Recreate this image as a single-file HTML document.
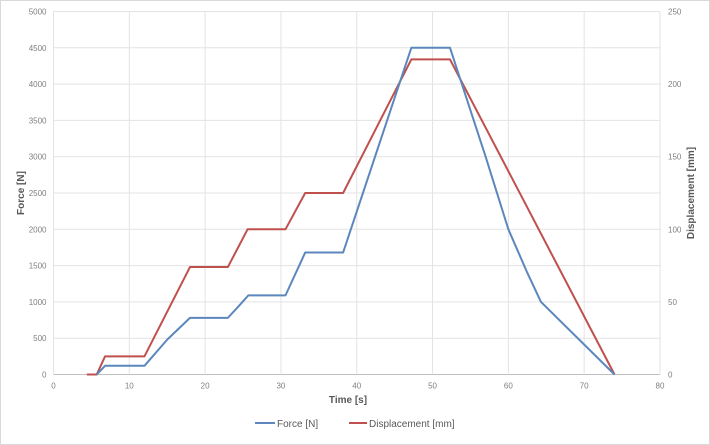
<!DOCTYPE html>
<html><head><meta charset="utf-8"><style>
body{margin:0;background:#fff;}
svg{display:block;font-family:"Liberation Sans",sans-serif;}
</style></head><body>
<svg id="chart" width="710" height="445" viewBox="0 0 710 445">
<rect x="0.5" y="0.5" width="709" height="444" fill="#fff" stroke="#d9d9d9"/>
<g id="grid"></g><g id="axes"></g><g id="series"></g>
<text x="348" y="403" text-anchor="middle" font-size="10" font-weight="bold" fill="#595959">Time [s]</text>
<text transform="translate(24,193) rotate(-90)" text-anchor="middle" font-size="10" font-weight="bold" fill="#595959">Force [N]</text>
<text transform="translate(694,193) rotate(-90)" text-anchor="middle" font-size="10" font-weight="bold" fill="#595959">Displacement [mm]</text>
<g>
<line x1="255" y1="423" x2="275" y2="423" stroke="#5b87bd" stroke-width="2"/>
<text x="277" y="427" font-size="10" fill="#595959">Force [N]</text>
<line x1="349" y1="423" x2="367" y2="423" stroke="#c0504d" stroke-width="2"/>
<text x="369" y="427" font-size="10" fill="#595959">Displacement [mm]</text>
</g>
</svg>
<script>
const xTicks=[0,10,20,30,40,50,60,70,80];
const forceTicks=[0,500,1000,1500,2000,2500,3000,3500,4000,4500,5000];
const dispTicks=[0,50,100,150,200,250];
const forceTime=[5.7,6.8,12,15,18,23,24.5,25.7,30.6,33.2,38.2,47.2,52.3,57,60,62.5,64.3,74];
const forceVals=[0,120,120,480,780,780,950,1090,1090,1680,1680,4500,4500,3000,2000,1400,1000,0];
const dispTime=[4.4,5.7,6.8,12,18,23,25.6,30.6,33.2,38.2,47.2,52.3,74];
const dispVals=[0,0,12.5,12.5,74,74,100,100,125,125,217,217,0];
const X0=53.5,X1=660,Y0=374.5,Y1=11.5;
const sx=t=>X0+(t-0)/(80-0)*(X1-X0);
const sf=v=>Y0-v/5000*(Y0-Y1);
const sd=v=>Y0-v/250*(Y0-Y1);
const NS="http://www.w3.org/2000/svg";
function mk(tag,attrs,parent){const e=document.createElementNS(NS,tag);for(const k in attrs)e.setAttribute(k,attrs[k]);parent.appendChild(e);return e;}
const grid=document.getElementById('grid'),axes=document.getElementById('axes'),ser=document.getElementById('series');
forceTicks.forEach(v=>{
 const l=mk('line',{x1:X0,x2:X1,y1:sf(v),y2:sf(v),stroke:v===0?'#bfbfbf':'#e3e3e3','stroke-width':1},grid);
 
 
 const t=mk('text',{x:X0-7,y:sf(v)+3,'text-anchor':'end','font-size':8,fill:'#7f7f7f'},axes);t.textContent=v;
 
 
});
xTicks.forEach(v=>{
 const l=mk('line',{x1:sx(v),x2:sx(v),y1:Y1,y2:Y0,stroke:'#e3e3e3','stroke-width':1},grid);
 
 
 const t=mk('text',{x:sx(v),y:Y0+14,'text-anchor':'middle','font-size':8,fill:'#7f7f7f'},axes);t.textContent=v;
 
 
});
dispTicks.forEach(v=>{
 const t=mk('text',{x:X1+8,y:sd(v)+3,'text-anchor':'start','font-size':8,fill:'#7f7f7f'},axes);t.textContent=v;
 
 
});
const dp=mk('polyline',{points:dispTime.map((t,i)=>sx(t)+','+sd(dispVals[i])).join(' '),fill:'none',stroke:'#c0504d','stroke-width':2,'stroke-linejoin':'round'},ser);


const fp=mk('polyline',{points:forceTime.map((t,i)=>sx(t)+','+sf(forceVals[i])).join(' '),fill:'none',stroke:'#5b87bd','stroke-width':2,'stroke-linejoin':'round'},ser);


</script>
</body></html>
